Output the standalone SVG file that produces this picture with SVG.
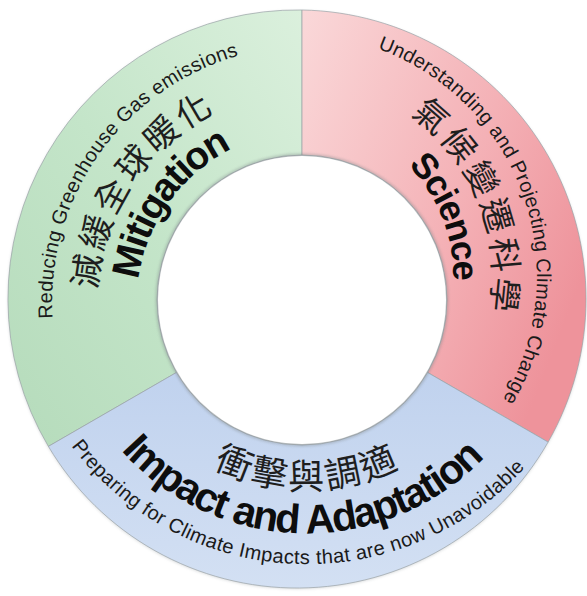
<svg xmlns="http://www.w3.org/2000/svg" xmlns:xlink="http://www.w3.org/1999/xlink" width="587" height="596" viewBox="0 0 587 596">
<style>
.sec{stroke:#9aa3a6;stroke-width:1;stroke-opacity:0.7}
.sm{font-family:"Liberation Sans",Arial,sans-serif;font-size:20px;fill:#1a1a1a}
.cjk{font-family:"Noto Sans CJK TC","Noto Sans CJK SC",sans-serif;fill:#1e1e1e}
.bd{font-family:"Liberation Sans",Arial,sans-serif;font-weight:bold;fill:#0d0d0d}
</style>
<defs>
<linearGradient id="gG" x1="1" y1="0" x2="0" y2="1">
<stop offset="0" stop-color="#dbf0dd"/>
<stop offset="0.5" stop-color="#c4e5c9"/>
<stop offset="1" stop-color="#b5dbbb"/>
</linearGradient>
<linearGradient id="gR" x1="0" y1="0" x2="1" y2="0.6">
<stop offset="0" stop-color="#fad8d9"/>
<stop offset="0.6" stop-color="#f4b1b6"/>
<stop offset="1" stop-color="#ee939b"/>
</linearGradient>
<linearGradient id="gB" x1="0" y1="0" x2="0" y2="1">
<stop offset="0" stop-color="#c0d2ee"/>
<stop offset="1" stop-color="#d3e0f3"/>
</linearGradient>
<filter id="sh" x="-10%" y="-10%" width="120%" height="120%">
<feGaussianBlur stdDeviation="1.5"/>
</filter>
<path id="pMo" d="M125.9,481.9 A256,256 0 0 1 417.6,70.7"/>
<path id="pMc" d="M161.4,453.8 A211,211 0 0 1 393.8,109.3"/>
<path id="pMb" d="M186.5,422.3 A171,171 0 0 1 381.1,147.4"/>
<path id="pSo" d="M254.6,37.4 A242,242 0 0 1 414.5,486.4"/>
<path id="pSc" d="M255.0,82.0 A198.1,198.1 0 0 1 399.0,444.6"/>
<path id="pSb" d="M263.3,121.0 A158.2,158.2 0 0 1 377.8,410.8"/>
<path id="pIo" d="M15.4,307.6 A294,294 0 0 0 593.9,334.4"/>
<path id="pIc" d="M105.7,323.1 A203.7,203.7 0 0 0 506.9,319.6"/>
<path id="pIb" d="M61.6,323.6 A247.3,247.3 0 0 0 548.6,334.2"/>
</defs>
<rect width="587" height="596" fill="#ffffff"/>
<circle cx="297" cy="300" r="289" fill="#8a9296" opacity="0.35" filter="url(#sh)"/>
<g id="mitigation">
<path class="sec" fill="url(#gG)" d="M48.4,446.4 A289,289 0 0 1 302,10 L302,155 A145,145 0 0 0 176.4,372.5 Z"/>
<text class="sm" letter-spacing="0.34"><textPath xlink:href="#pMo" href="#pMo" startOffset="50%" text-anchor="middle">Reducing Greenhouse Gas emissions</textPath></text>
<text class="cjk" font-size="34" letter-spacing="3.6"><textPath xlink:href="#pMc" href="#pMc" startOffset="50%" text-anchor="middle">減緩全球暖化</textPath></text>
<text class="bd" font-size="39" letter-spacing="-1.8"><textPath xlink:href="#pMb" href="#pMb" startOffset="50%" text-anchor="middle">Mitigation</textPath></text>
</g>
<g id="science">
<path class="sec" fill="url(#gR)" d="M302,10 A289,289 0 0 1 548.1,442.1 L427.6,372.5 A145,145 0 0 0 302,155 Z"/>
<text class="sm" letter-spacing="0.31"><textPath xlink:href="#pSo" href="#pSo" startOffset="50%" text-anchor="middle">Understanding and Projecting Climate Change</textPath></text>
<text class="cjk" font-size="34" letter-spacing="3.8"><textPath xlink:href="#pSc" href="#pSc" startOffset="50%" text-anchor="middle">氣候變遷科學</textPath></text>
<text class="bd" font-size="36" letter-spacing="-1.4"><textPath xlink:href="#pSb" href="#pSb" startOffset="50%" text-anchor="middle">Science</textPath></text>
</g>
<g id="impact">
<path class="sec" fill="url(#gB)" d="M548.1,442.1 A289,289 0 0 1 48.4,446.4 L176.4,372.5 A145,145 0 0 0 427.6,372.5 Z"/>
<text class="sm" letter-spacing="0.41"><textPath xlink:href="#pIo" href="#pIo" startOffset="50%" text-anchor="middle">Preparing for Climate Impacts that are now Unavoidable</textPath></text>
<text class="cjk" font-size="36" letter-spacing="3.2"><textPath xlink:href="#pIc" href="#pIc" startOffset="50%" text-anchor="middle">衝擊與調適</textPath></text>
<text class="bd" font-size="41" letter-spacing="-1.6"><textPath xlink:href="#pIb" href="#pIb" startOffset="50%" text-anchor="middle">Impact and Adaptation</textPath></text>
</g>
<circle cx="302" cy="300" r="145" fill="none" stroke="#7d8588" stroke-width="2" opacity="0.6" filter="url(#sh)"/>
<circle cx="302" cy="300" r="144" fill="#ffffff"/>
<g id="connectors"/>
</svg>
